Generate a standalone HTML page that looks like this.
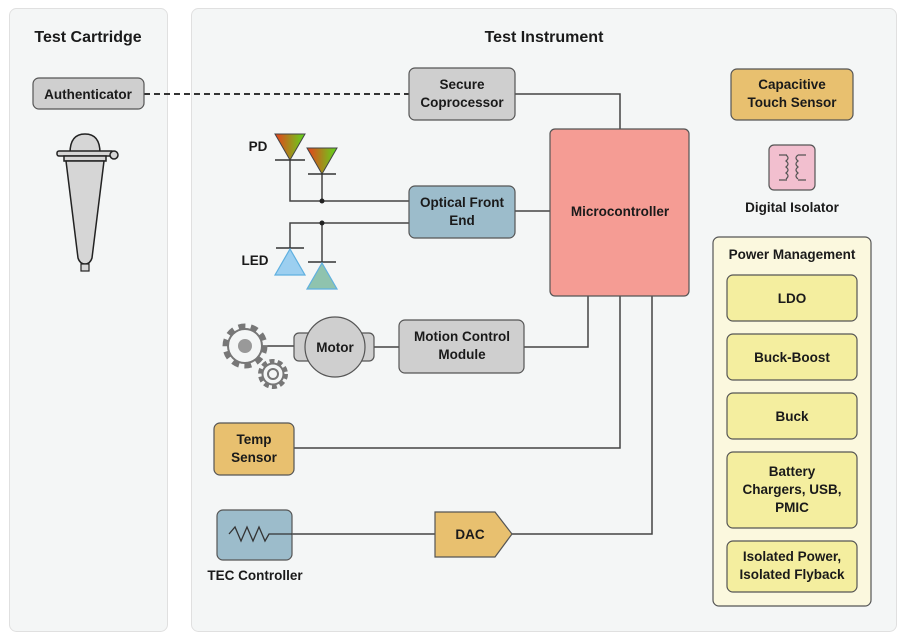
<!DOCTYPE html>
<html><head><meta charset="utf-8"><style>
html,body{margin:0;padding:0;background:#fff;}
svg{display:block;}
text{font-family:"Liberation Sans",sans-serif;font-weight:bold;fill:#1a1a1a;text-anchor:middle;}
.t{font-size:16px;}
.b{font-size:13.5px;}
.ln{stroke:#444;stroke-width:1.5;fill:none;}
</style></head><body>
<svg width="903" height="639" viewBox="0 0 903 639" xmlns="http://www.w3.org/2000/svg">
<defs>
<linearGradient id="pd" x1="0" y1="0" x2="1" y2="0"><stop offset="0" stop-color="#e8401c"/><stop offset="1" stop-color="#5ed81c"/></linearGradient>
</defs>
<rect x="9.5" y="8.5" width="158" height="623" rx="7" fill="#f4f6f6" stroke="#e0e0e0"/>
<rect x="191.5" y="8.5" width="705" height="623" rx="7" fill="#f4f6f6" stroke="#e0e0e0"/>
<text class="t" x="88" y="42">Test Cartridge</text>
<text class="t" x="544" y="42">Test Instrument</text>

<line x1="144" y1="94" x2="409" y2="94" stroke="#333" stroke-width="2" stroke-dasharray="6,4"/>
<polyline class="ln" points="515,94 620,94 620,129"/>
<line class="ln" x1="515" y1="211" x2="550" y2="211"/>
<polyline class="ln" points="290,160 290,201 409,201"/>
<line class="ln" x1="322" y1="173" x2="322" y2="201"/>
<polyline class="ln" points="290,248 290,223 409,223"/>
<line class="ln" x1="322" y1="223" x2="322" y2="262"/>
<circle cx="322" cy="201" r="2.5" fill="#222"/>
<circle cx="322" cy="223" r="2.5" fill="#222"/>
<polyline class="ln" points="524,347 588,347 588,296"/>
<polyline class="ln" points="294,448 620,448 620,296"/>
<polyline class="ln" points="512,534 652,534 652,296"/>
<line class="ln" x1="292" y1="534" x2="435" y2="534"/>
<line class="ln" x1="262" y1="346" x2="294" y2="346"/>
<line class="ln" x1="374" y1="347" x2="399" y2="347"/>

<rect x="33" y="78" width="111" height="31" rx="6" fill="#cfcfcf" stroke="#555" stroke-width="1.2"/>
<text class="b" x="88" y="99">Authenticator</text>
<path d="M70,153 Q70,134 85,134 Q100,134 100,153 Z" fill="#d6d6d6" stroke="#222" stroke-width="1.5"/>
<rect x="57" y="151" width="57" height="5" rx="2" fill="#d6d6d6" stroke="#222" stroke-width="1.5"/>
<circle cx="114" cy="155" r="4" fill="#d6d6d6" stroke="#222" stroke-width="1.5"/>
<rect x="64" y="156" width="42" height="5" fill="#d6d6d6" stroke="#222" stroke-width="1.5"/>
<path d="M66,161 L104,161 L92,258 Q90,264 85,264 Q80,264 78,258 Z" fill="#d6d6d6" stroke="#222" stroke-width="1.5"/>
<rect x="81" y="264" width="8" height="7" fill="#d6d6d6" stroke="#222" stroke-width="1.2"/>

<rect x="409" y="68" width="106" height="52" rx="6" fill="#cfcfcf" stroke="#555" stroke-width="1.2"/>
<text class="b" x="462" y="89">Secure</text><text class="b" x="462" y="107">Coprocessor</text>
<rect x="550" y="129" width="139" height="167" rx="5" fill="#f59c94" stroke="#555" stroke-width="1.2"/>
<text class="b" x="620" y="216">Microcontroller</text>
<rect x="731" y="69" width="122" height="51" rx="6" fill="#e8c06f" stroke="#555" stroke-width="1.2"/>
<text class="b" x="792" y="89">Capacitive</text><text class="b" x="792" y="107">Touch Sensor</text>
<rect x="769" y="145" width="46" height="45" rx="5" fill="#f2bfcf" stroke="#555" stroke-width="1.2"/>
<path d="M779,155 h8 M779,180 h8 M786,155 q4,3 0,6 q4,3 0,6 q4,3 0,6 q4,3 0,6 M806,155 h-8 M806,180 h-8 M798,155 q-4,3 0,6 q-4,3 0,6 q-4,3 0,6 q-4,3 0,6" stroke="#555" stroke-width="1.2" fill="none"/>
<text class="b" x="792" y="212">Digital Isolator</text>
<rect x="713" y="237" width="158" height="369" rx="6" fill="#fbf8de" stroke="#555" stroke-width="1.2"/>
<text class="b" x="792" y="259">Power Management</text>
<g fill="#f4ee9f" stroke="#555" stroke-width="1.2">
<rect x="727" y="275" width="130" height="46" rx="6"/>
<rect x="727" y="334" width="130" height="46" rx="6"/>
<rect x="727" y="393" width="130" height="46" rx="6"/>
<rect x="727" y="452" width="130" height="76" rx="6"/>
<rect x="727" y="541" width="130" height="51" rx="6"/>
</g>
<text class="b" x="792" y="303">LDO</text>
<text class="b" x="792" y="362">Buck-Boost</text>
<text class="b" x="792" y="421">Buck</text>
<text class="b" x="792" y="476">Battery</text><text class="b" x="792" y="494">Chargers, USB,</text><text class="b" x="792" y="512">PMIC</text>
<text class="b" x="792" y="561">Isolated Power,</text><text class="b" x="792" y="579">Isolated Flyback</text>

<rect x="409" y="186" width="106" height="52" rx="6" fill="#9cbccb" stroke="#555" stroke-width="1.2"/>
<text class="b" x="462" y="207">Optical Front</text><text class="b" x="462" y="225">End</text>
<text class="b" x="258" y="151">PD</text>
<path d="M275,134 L305,134 L290,160 Z" fill="url(#pd)" stroke="#444"/>
<line x1="275" y1="160" x2="305" y2="160" stroke="#333" stroke-width="1.5"/>
<path d="M307,148 L337,148 L322,174 Z" fill="url(#pd)" stroke="#444"/>
<line x1="308" y1="174" x2="336" y2="174" stroke="#333" stroke-width="1.5"/>
<text class="b" x="255" y="265">LED</text>
<line x1="276" y1="248" x2="304" y2="248" stroke="#333" stroke-width="1.5"/>
<path d="M290,249 L305,275 L275,275 Z" fill="#9ccff0" stroke="#5fb0e0" stroke-width="1.2"/>
<line x1="308" y1="262" x2="336" y2="262" stroke="#333" stroke-width="1.5"/>
<path d="M322,263 L337,289 L307,289 Z" fill="#8fc3ae" stroke="#5fb0e0" stroke-width="1.2"/>

<!-- gears -->
<circle cx="245" cy="346" r="20" fill="none" stroke="#777" stroke-width="5" stroke-dasharray="7,5.5"/>
<circle cx="245" cy="346" r="17" fill="#f4f6f6" stroke="#777" stroke-width="2"/>
<circle cx="245" cy="346" r="7" fill="#999"/>
<circle cx="273" cy="374" r="13" fill="none" stroke="#777" stroke-width="4" stroke-dasharray="5,3.2"/>
<circle cx="273" cy="374" r="10.5" fill="#f4f6f6" stroke="#777" stroke-width="2"/>
<circle cx="273" cy="374" r="5" fill="#f4f6f6" stroke="#777" stroke-width="2"/>

<rect x="294" y="333" width="80" height="28" rx="5" fill="#cfcfcf" stroke="#555" stroke-width="1.2"/>
<circle cx="335" cy="347" r="30" fill="#cfcfcf" stroke="#555" stroke-width="1.2"/>
<text class="b" x="335" y="352">Motor</text>
<rect x="399" y="320" width="125" height="53" rx="6" fill="#cfcfcf" stroke="#555" stroke-width="1.2"/>
<text class="b" x="462" y="341">Motion Control</text><text class="b" x="462" y="359">Module</text>
<rect x="214" y="423" width="80" height="52" rx="6" fill="#e8c06f" stroke="#555" stroke-width="1.2"/>
<text class="b" x="254" y="444">Temp</text><text class="b" x="254" y="462">Sensor</text>
<rect x="217" y="510" width="75" height="50" rx="6" fill="#9cbccb" stroke="#555" stroke-width="1.2"/>
<polyline points="229,534 235,527 241,541 247,527 253,541 259,527 265,541 269,534 292,534" stroke="#333" stroke-width="1.3" fill="none"/>
<text class="b" x="255" y="580">TEC Controller</text>
<path d="M435,512 L495,512 L512,534 L495,557 L435,557 Z" fill="#e8c06f" stroke="#555" stroke-width="1.2"/>
<text class="b" x="470" y="539">DAC</text>
</svg>
</body></html>
